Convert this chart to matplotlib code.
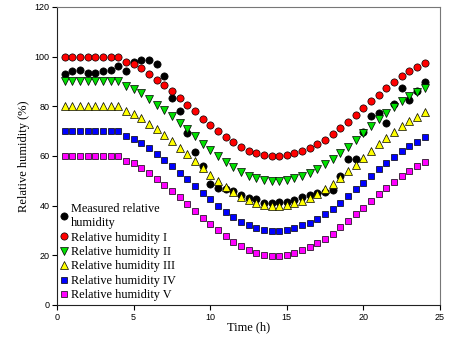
import numpy as np
import matplotlib
matplotlib.use('Agg')
import matplotlib.pyplot as plt

# time axis (h), one reading every half hour
time_h = np.arange(0.5, 24.5, 0.5)

measured = [93.0, 94.0, 94.5, 93.3, 93.2, 94.0, 94.4, 96.3, 94.0, 98.0,
            98.8, 98.5, 97.2, 92.2, 83.5, 77.9, 69.2, 61.6, 56.0, 48.7,
            47.1, 46.6, 46.0, 44.3, 43.2, 42.5, 41.2, 41.2, 41.6, 41.6,
            42.3, 43.6, 44.3, 45.0, 45.4, 46.3, 52.0, 58.7, 58.7, 69.8,
            76.1, 77.2, 73.4, 81.0, 87.3, 82.6, 86.0, 89.9]

rh_1 = [100, 100, 100, 100, 100, 100, 100, 100, 98, 97,
        95.3, 93, 90.7, 88.5, 86, 83.3, 80.7, 78, 75, 72.5,
        70, 67.6, 65.5, 63.6, 62.1, 61, 60.2, 59.8, 59.8, 60.2,
        61, 62, 63.2, 64.8, 66.6, 68.7, 71.2, 73.8, 76.5, 79.2,
        82, 84.7, 87.2, 89.7, 92, 94, 95.8, 97.5]

rh_2 = [90, 90, 90, 90, 90, 90, 90, 90, 88, 87,
        85.3, 83, 80.7, 78.5, 76, 73.3, 70.7, 68, 65, 62.5,
        60, 57.6, 55.5, 53.6, 52.1, 51, 50.2, 49.8, 49.8, 50.2,
        51, 52, 53.2, 54.8, 56.6, 58.7, 61.2, 63.8, 66.5, 69.2,
        72, 74.7, 77.2, 79.7, 82, 84, 85.8, 87.5]

rh_3 = [80, 80, 80, 80, 80, 80, 80, 80, 78, 77,
        75.3, 73, 70.7, 68.5, 66, 63.3, 60.7, 58, 55, 52.5,
        50, 47.6, 45.5, 43.6, 42.1, 41, 40.2, 39.8, 39.8, 40.2,
        41, 42, 43.2, 44.8, 46.6, 48.7, 51.2, 53.8, 56.5, 59.2,
        62, 64.7, 67.2, 69.7, 72, 74, 75.8, 77.5]

rh_4 = [70, 70, 70, 70, 70, 70, 70, 70, 68, 67,
        65.3, 63, 60.7, 58.5, 56, 53.3, 50.7, 48, 45, 42.5,
        40, 37.6, 35.5, 33.6, 32.1, 31, 30.2, 29.8, 29.8, 30.2,
        31, 32, 33.2, 34.8, 36.6, 38.7, 41.2, 43.8, 46.5, 49.2,
        52, 54.7, 57.2, 59.7, 62, 64, 65.8, 67.5]

rh_5 = [60, 60, 60, 60, 60, 60, 60, 60, 58, 57,
        55.3, 53, 50.7, 48.5, 46, 43.3, 40.7, 38, 35, 32.5,
        30, 27.6, 25.5, 23.6, 22.1, 21, 20.2, 19.8, 19.8, 20.2,
        21, 22, 23.2, 24.8, 26.6, 28.7, 31.2, 33.8, 36.5, 39.2,
        42, 44.7, 47.2, 49.7, 52, 54, 55.8, 57.5]

labels = ['Measured relative\nhumidity', 'Relative humidity I', 'Relative humidity II',
          'Relative humidity III', 'Relative humidity IV', 'Relative humidity V']

x_ticks = [0, 5, 10, 15, 20, 25]
y_ticks = [0, 20, 40, 60, 80, 100, 120]


def plot_humidity():
    fig = plt.figure(figsize=(4.49, 3.45), dpi=100)
    ax = fig.add_axes([0.127, 0.116, 0.853, 0.864])

    series = [measured, rh_1, rh_2, rh_3, rh_4, rh_5]
    markers = ['o', 'o', 'v', '^', 's', 's']
    colors = ['black', '#ff0000', '#00e000', '#ffff00', '#0000ff', '#ff00ff']
    sizes = [5.2, 5.2, 5.4, 5.4, 4.6, 4.6]

    for vals, m, c, s, lab in zip(series, markers, colors, sizes, labels):
        ax.plot(time_h, vals, linestyle='none', marker=m, ms=s,
                markerfacecolor=c, markeredgecolor='black', mew=0.5, label=lab)

    ax.set_xlim(0, 25)
    ax.set_ylim(0, 120)
    ax.set_xticks(x_ticks)
    ax.set_yticks(y_ticks)
    ax.tick_params(direction='out', length=3.5, width=0.8, labelsize=6.5,
                   top=False, right=False, pad=2)
    for lab in ax.get_xticklabels() + ax.get_yticklabels():
        lab.set_family('Liberation Sans')
    for side in ['left', 'bottom']:
        ax.spines[side].set_color('#222222')
    for side in ['top', 'right']:
        ax.spines[side].set_color('#777777')

    ax.set_xlabel('Time (h)', family='Liberation Serif', fontsize=9, labelpad=0)
    ax.set_ylabel('Relative humidity (%)', family='Liberation Serif', fontsize=9, labelpad=3)

    ax.legend(loc='lower left', bbox_to_anchor=(0.0, 0.0), frameon=False,
              prop={'family': 'Liberation Serif', 'size': 8.8},
              handlelength=0.6, handletextpad=0.25, labelspacing=0.2,
              borderaxespad=0.1, borderpad=0.2)

    plt.savefig('out.png', dpi=100)


plot_humidity()
